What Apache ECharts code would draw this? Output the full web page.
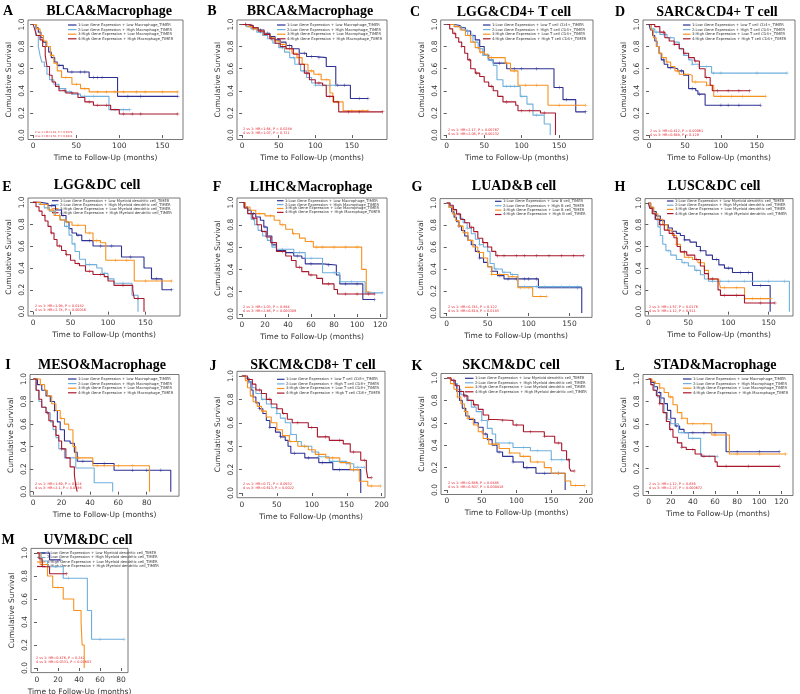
<!DOCTYPE html>
<html><head><meta charset="utf-8">
<script src="https://cdn.jsdelivr.net/npm/echarts@6/dist/echarts.min.js"></script>
<style>html,body{margin:0;padding:0;background:#fff}#c{width:800px;height:694px}</style>
</head><body><div id="c"></div>
<script>
// ---------------- DATA ----------------
const panelLetters = ['A','B','C','D','E','F','G','H','I','J','K','L','M'];
const panelTitles = ['BLCA&Macrophage','BRCA&Macrophage','LGG&CD4+ T cell','SARC&CD4+ T cell','LGG&DC cell','LIHC&Macrophage','LUAD&B cell','LUSC&DC cell','MESO&Macrophage','SKCM&CD8+ T cell','SKCM&DC cell','STAD&Macrophage','UVM&DC cell'];
const cellNames = ['Macrophage_TIMER','Macrophage_TIMER','T cell CD4+_TIMER','T cell CD4+_TIMER','Myeloid dendritic cell_TIMER','Macrophage_TIMER','B cell_TIMER','Myeloid dendritic cell_TIMER','Macrophage_TIMER','T cell CD8+_TIMER','Myeloid dendritic cell_TIMER','Macrophage_TIMER','Myeloid dendritic cell_TIMER'];
const hrTexts = [
 ['2 vs 1: HR=1.61, P = 0.0278','4 vs 3: HR=1.52, P = 0.0431'],
 ['2 vs 1: HR=1.64, P = 0.0288','4 vs 3: HR=1.07, P = 0.721'],
 ['2 vs 1: HR=2.17, P = 0.00767','4 vs 3: HR=2.06, P = 0.00232'],
 ['2 vs 1: HR=0.412, P = 0.00061','4 vs 3: HR=0.648, P = 0.129'],
 ['2 vs 1: HR=1.98, P = 0.0182','4 vs 3: HR=2.74, P = 0.00016'],
 ['2 vs 1: HR=1.03, P = 0.884','4 vs 3: HR=2.46, P = 0.000309'],
 ['2 vs 1: HR=0.741, P = 0.122','4 vs 3: HR=0.614, P = 0.0183'],
 ['2 vs 1: HR=1.57, P = 0.0176','4 vs 3: HR=1.12, P = 0.511'],
 ['2 vs 1: HR=1.69, P = 0.124','4 vs 3: HR=2.1, P = 0.0386'],
 ['2 vs 1: HR=0.71, P = 0.0932','4 vs 3: HR=0.613, P = 0.0022'],
 ['2 vs 1: HR=0.686, P = 0.0485','4 vs 3: HR=0.507, P = 0.000418'],
 ['2 vs 1: HR=1.12, P = 0.636','4 vs 3: HR=2.27, P = 0.000672'],
 ['2 vs 1: HR=0.476, P = 0.242','4 vs 3: HR=0.0331, P = 0.00603']
];
const yTicks = [0, 0.2, 0.4, 0.6, 0.8, 1.0];
const ticks150 = [0, 50, 100, 150];
const ticks120 = [0, 20, 40, 60, 80, 100, 120];
const ticks80 = [0, 20, 40, 60, 80];
const ticks200 = [0, 50, 100, 150, 200];

// Kaplan-Meier curves: [time, survival after step]
const blca_1 = [[0,1],[3,0.97],[6,0.93],[9,0.88],[12,0.84],[15,0.8],[18,0.75],[21,0.7],[25,0.66],[28,0.63],[35,0.6],[40,0.57],[65,0.52],[98,0.35],[168,0.35]];
const blca_2 = [[0,1],[3,0.9],[6,0.8],[8,0.72],[10,0.66],[13,0.62],[16,0.55],[19,0.5],[24,0.46],[30,0.42],[38,0.39],[45,0.37],[55,0.35],[88,0.23],[112,0.23]];
const blca_3 = [[0,1],[4,0.96],[8,0.9],[12,0.85],[16,0.8],[20,0.72],[24,0.65],[28,0.58],[33,0.52],[45,0.46],[55,0.42],[65,0.39],[168,0.39]];
const blca_4 = [[0,1],[2,0.95],[4,0.9],[8,0.86],[11,0.8],[14,0.72],[16,0.62],[19,0.54],[22,0.48],[26,0.44],[30,0.4],[38,0.38],[52,0.34],[60,0.3],[70,0.27],[90,0.23],[100,0.19],[168,0.19]];
const blca_1c = [30,45,55,60,70,75,80,110,125,168];
const blca_2c = [38,42,60,70,95,105,112];
const blca_3c = [38,50,60,75,85,95,105,120,130,150,168];
const blca_4c = [36,45,65,75,85,105,115,125,168];

const brca_1 = [[0,1],[8,0.99],[15,0.97],[22,0.95],[30,0.92],[38,0.89],[45,0.86],[52,0.84],[60,0.81],[68,0.78],[78,0.74],[88,0.71],[100,0.7],[115,0.62],[128,0.45],[148,0.33],[172,0.33]];
const brca_2 = [[0,1],[6,0.98],[12,0.96],[20,0.93],[28,0.9],[35,0.87],[42,0.83],[50,0.79],[58,0.75],[65,0.7],[72,0.64],[80,0.58],[88,0.52],[95,0.47],[100,0.45],[128,0.45]];
const brca_3 = [[0,1],[8,0.98],[15,0.96],[22,0.94],[30,0.91],[38,0.88],[45,0.85],[52,0.82],[60,0.78],[68,0.74],[75,0.7],[82,0.64],[90,0.58],[98,0.55],[108,0.5],[120,0.38],[124,0.3],[138,0.22],[172,0.22]];
const brca_4 = [[0,1],[8,0.99],[15,0.97],[22,0.94],[30,0.91],[38,0.87],[45,0.83],[52,0.8],[60,0.78],[70,0.73],[78,0.64],[85,0.56],[92,0.5],[100,0.47],[110,0.45],[115,0.35],[125,0.3],[132,0.21],[192,0.21]];
const brca_1c = [5,12,25,35,50,65,85,95,105,130,140,160,172];
const brca_2c = [5,15,25,40,55,70,85,100,110,120,128];
const brca_3c = [5,15,30,45,60,75,95,105,115,130,150,165,172];
const brca_4c = [5,15,25,40,55,65,90,105,120,145,160,192];

const lggt_1 = [[0,1],[10,0.99],[18,0.97],[25,0.94],[32,0.9],[38,0.86],[44,0.8],[50,0.72],[56,0.68],[62,0.65],[80,0.6],[143,0.43],[155,0.32],[172,0.21],[185,0.21]];
const lggt_2 = [[0,1],[10,0.98],[20,0.95],[28,0.9],[35,0.84],[42,0.78],[48,0.72],[55,0.68],[62,0.63],[67,0.5],[75,0.44],[98,0.35],[107,0.28],[115,0.18],[130,0.1],[138,0]];
const lggt_3 = [[0,1],[10,0.98],[18,0.95],[25,0.9],[32,0.84],[38,0.79],[44,0.75],[50,0.73],[55,0.7],[78,0.65],[85,0.58],[95,0.45],[135,0.27],[185,0.27]];
const lggt_4 = [[0,1],[4,0.96],[8,0.92],[12,0.88],[16,0.84],[20,0.8],[24,0.74],[28,0.68],[32,0.6],[38,0.56],[44,0.53],[50,0.48],[56,0.44],[62,0.4],[68,0.35],[75,0.3],[92,0.27],[95,0.22],[125,0.2],[145,0]];
const lggt_1c = [20,35,55,70,90,100,120,150,160,185];
const lggt_2c = [25,45,60,80,85,90,100,120];
const lggt_3c = [30,45,60,80,90,105,120,150,185];
const lggt_4c = [10,20,30,40,60,80,100,110,130];

const sarc_1 = [[0,1],[2,0.95],[5,0.9],[8,0.85],[11,0.8],[14,0.74],[17,0.68],[21,0.64],[26,0.61],[32,0.6],[40,0.58],[48,0.54],[55,0.42],[65,0.4],[68,0.37],[78,0.27],[155,0.27]];
const sarc_2 = [[0,1],[3,0.96],[8,0.93],[15,0.91],[25,0.88],[35,0.84],[42,0.78],[48,0.72],[55,0.68],[60,0.64],[70,0.62],[87,0.56],[192,0.56]];
const sarc_3 = [[0,1],[3,0.95],[6,0.88],[10,0.8],[14,0.74],[18,0.7],[24,0.66],[30,0.62],[36,0.58],[42,0.55],[55,0.54],[60,0.48],[80,0.45],[90,0.35],[162,0.35]];
const sarc_4 = [[0,1],[8,0.98],[15,0.93],[22,0.88],[28,0.85],[35,0.82],[42,0.78],[48,0.74],[55,0.7],[63,0.67],[70,0.6],[78,0.52],[85,0.45],[88,0.4],[140,0.4]];
const sarc_1c = [20,30,45,60,70,100,110,125,155];
const sarc_2c = [10,20,30,45,60,70,80,90,100,150,192];
const sarc_3c = [15,25,40,50,65,80,100,115,130,162];
const sarc_4c = [20,35,50,65,80,95,110,125,140];

const lggd_1 = [[0,1],[10,0.99],[20,0.97],[30,0.93],[38,0.88],[44,0.82],[48,0.76],[52,0.72],[58,0.7],[65,0.65],[80,0.6],[118,0.5],[148,0.4],[158,0.3],[172,0.2],[185,0.2]];
const lggd_2 = [[0,1],[8,0.98],[15,0.95],[22,0.92],[30,0.88],[36,0.84],[42,0.78],[48,0.7],[52,0.62],[56,0.55],[62,0.48],[70,0.43],[85,0.4],[92,0.35],[100,0.3],[108,0.26],[132,0.15],[140,0]];
const lggd_3 = [[0,1],[10,0.98],[20,0.93],[28,0.88],[36,0.84],[44,0.82],[52,0.79],[70,0.72],[80,0.65],[90,0.63],[97,0.47],[135,0.28],[185,0.28]];
const lggd_4 = [[0,1],[4,0.96],[8,0.92],[12,0.88],[16,0.83],[20,0.78],[24,0.72],[28,0.66],[32,0.6],[38,0.56],[44,0.52],[50,0.47],[56,0.44],[62,0.42],[70,0.37],[80,0.34],[95,0.32],[100,0.28],[108,0.24],[133,0.2],[135,0.12],[148,0]];
const lggd_1c = [25,40,60,75,90,105,130,165,185];
const lggd_2c = [20,35,45,55,75,95,120];
const lggd_3c = [25,35,45,60,75,85,110,125,150,185];
const lggd_4c = [15,25,35,45,60,75,90,120,140];

const lihc_1 = [[0,1],[2,0.96],[5,0.93],[8,0.9],[12,0.87],[16,0.84],[19,0.78],[22,0.7],[26,0.62],[30,0.57],[38,0.55],[45,0.52],[52,0.5],[55,0.45],[70,0.44],[82,0.35],[85,0.27],[105,0.13],[115,0.13]];
const lihc_2 = [[0,1],[2,0.95],[5,0.9],[8,0.85],[11,0.8],[14,0.75],[18,0.7],[22,0.66],[26,0.6],[30,0.58],[45,0.55],[55,0.5],[70,0.37],[85,0.29],[107,0.19],[122,0.19]];
const lihc_3 = [[0,1],[3,0.96],[7,0.93],[12,0.9],[20,0.88],[28,0.84],[33,0.8],[38,0.76],[44,0.72],[50,0.68],[55,0.65],[62,0.6],[104,0.4],[108,0.2],[111,0.2]];
const lihc_4 = [[0,1],[2,0.95],[5,0.9],[9,0.86],[13,0.8],[17,0.74],[21,0.69],[25,0.64],[30,0.56],[38,0.52],[43,0.48],[47,0.42],[52,0.38],[58,0.35],[65,0.32],[70,0.27],[80,0.22],[83,0.18],[115,0.18]];
const lihc_1c = [10,20,35,48,60,75,90,100,115];
const lihc_2c = [10,25,35,50,60,80,95,112,122];
const lihc_3c = [15,25,35,45,60,65,70,80,90,100];
const lihc_4c = [10,20,35,50,60,75,90,100,110,115];

const luad_1 = [[0,1],[3,0.96],[6,0.92],[9,0.87],[12,0.83],[15,0.79],[18,0.75],[22,0.7],[26,0.66],[30,0.62],[35,0.56],[40,0.5],[45,0.46],[50,0.42],[55,0.38],[62,0.34],[70,0.31],[112,0.23],[165,0]];
const luad_2 = [[0,1],[4,0.97],[8,0.94],[12,0.9],[16,0.86],[20,0.82],[25,0.77],[30,0.72],[35,0.67],[40,0.62],[45,0.6],[50,0.56],[53,0.45],[58,0.4],[68,0.37],[78,0.35],[87,0.24],[165,0.24]];
const luad_3 = [[0,1],[3,0.96],[7,0.9],[11,0.84],[15,0.79],[20,0.73],[26,0.66],[32,0.6],[38,0.55],[45,0.5],[50,0.42],[55,0.35],[75,0.33],[87,0.23],[105,0.15],[122,0.15]];
const luad_4 = [[0,1],[4,0.98],[8,0.94],[12,0.9],[17,0.85],[22,0.82],[28,0.78],[33,0.74],[38,0.68],[44,0.64],[50,0.6],[55,0.56],[60,0.52],[167,0.52]];
const luad_1c = [15,25,40,55,65,75,85,95,100,110,160];
const luad_2c = [10,25,40,60,70,80,95,110,120,130,140,150,160];
const luad_3c = [15,25,40,55,65,80,90,100,115,122];
const luad_4c = [15,30,45,62,70,85,95,110,125,140,155,167];

const lusc_1 = [[0,1],[3,0.96],[6,0.92],[10,0.88],[15,0.84],[20,0.8],[25,0.77],[30,0.74],[35,0.72],[40,0.7],[45,0.66],[52,0.64],[60,0.6],[65,0.56],[72,0.52],[80,0.48],[88,0.43],[95,0.4],[105,0.36],[130,0.24],[152,0]];
const lusc_2 = [[0,1],[2,0.95],[5,0.9],[8,0.85],[12,0.78],[15,0.7],[18,0.62],[22,0.56],[28,0.52],[35,0.48],[42,0.45],[50,0.42],[58,0.38],[65,0.34],[70,0.3],[75,0.28],[176,0]];
const lusc_3 = [[0,1],[3,0.96],[7,0.9],[12,0.85],[18,0.8],[24,0.75],[30,0.7],[35,0.62],[40,0.55],[45,0.5],[55,0.48],[62,0.45],[70,0.38],[75,0.3],[88,0.28],[90,0.22],[120,0.12],[153,0.12]];
const lusc_4 = [[0,1],[2,0.95],[5,0.9],[9,0.85],[14,0.8],[20,0.75],[26,0.72],[32,0.68],[36,0.6],[40,0.55],[48,0.52],[58,0.48],[65,0.42],[70,0.35],[75,0.3],[87,0.2],[90,0.15],[120,0.08],[158,0.08]];
const lusc_1c = [15,30,45,65,85,100,115,125,140];
const lusc_2c = [10,25,45,60,80,90,100,120,150,170];
const lusc_3c = [20,35,50,65,80,95,110,130,140,153];
const lusc_4c = [15,30,45,60,80,95,110,140,158];

const meso_1 = [[0,1],[3,0.95],[6,0.9],[9,0.85],[12,0.8],[15,0.72],[17,0.62],[19,0.55],[22,0.45],[26,0.43],[29,0.35],[31,0.27],[42,0.25],[57,0.19],[97,0]];
const meso_2 = [[0,1],[2,0.9],[4,0.8],[6,0.75],[9,0.7],[12,0.62],[14,0.55],[16,0.48],[18,0.38],[22,0.3],[30,0.21],[43,0.08],[56,0]];
const meso_3 = [[0,1],[5,0.95],[8,0.9],[10,0.85],[13,0.78],[16,0.72],[19,0.65],[22,0.6],[25,0.55],[28,0.4],[30,0.3],[42,0.23],[82,0]];
const meso_4 = [[0,1],[2,0.9],[4,0.82],[6,0.75],[9,0.7],[11,0.63],[14,0.58],[16,0.5],[18,0.45],[20,0.38],[23,0.3],[26,0.22],[29,0.15],[30,0.05],[31,0]];
const meso_1c = [15,35,50,70,80,90];
const meso_2c = [10,20];
const meso_3c = [20,32,45,50,60,70];
const meso_4c = [10,20];

const skcmt_1 = [[0,1],[5,0.98],[10,0.95],[13,0.88],[16,0.82],[20,0.77],[25,0.72],[30,0.68],[35,0.62],[40,0.56],[48,0.52],[55,0.48],[62,0.45],[66,0.4],[70,0.34],[90,0.3],[110,0.26],[130,0.2],[170,0]];
const skcmt_2 = [[0,1],[5,0.98],[10,0.95],[15,0.9],[20,0.85],[28,0.8],[35,0.76],[42,0.73],[50,0.68],[55,0.64],[62,0.6],[70,0.5],[78,0.44],[85,0.4],[100,0.35],[110,0.31],[125,0.27],[150,0.25],[160,0.22],[175,0.22]];
const skcmt_3 = [[0,1],[5,0.96],[8,0.9],[12,0.83],[16,0.78],[22,0.74],[28,0.7],[35,0.65],[42,0.6],[50,0.54],[58,0.49],[68,0.44],[80,0.4],[95,0.37],[105,0.33],[120,0.3],[140,0.26],[155,0.2],[168,0.1],[180,0.06],[198,0.06]];
const skcmt_4 = [[0,1],[8,0.97],[15,0.93],[20,0.88],[28,0.85],[35,0.8],[42,0.76],[50,0.72],[58,0.68],[65,0.63],[72,0.6],[95,0.56],[108,0.48],[125,0.45],[145,0.42],[155,0.35],[170,0.28],[178,0.2],[180,0.13],[185,0.13]];
const skcmt_1c = [10,25,40,55,75,95,115,140,160];
const skcmt_2c = [15,30,50,70,90,110,130,150,165,175];
const skcmt_3c = [15,30,50,70,90,110,130,160,185,198];
const skcmt_4c = [10,25,40,60,80,100,120,140,160,175,185];

const skcmd_1 = [[0,1],[5,0.98],[10,0.95],[14,0.88],[18,0.8],[22,0.73],[27,0.66],[32,0.63],[40,0.6],[45,0.56],[52,0.5],[58,0.45],[65,0.4],[72,0.34],[80,0.3],[95,0.25],[110,0.2],[128,0.15],[170,0]];
const skcmd_2 = [[0,1],[5,0.98],[10,0.95],[15,0.9],[20,0.85],[28,0.8],[35,0.74],[42,0.7],[50,0.62],[58,0.55],[65,0.5],[70,0.42],[95,0.38],[120,0.35],[150,0.27],[176,0.27]];
const skcmd_3 = [[0,1],[5,0.95],[10,0.9],[15,0.83],[20,0.77],[25,0.7],[30,0.64],[38,0.58],[45,0.52],[52,0.46],[60,0.41],[75,0.37],[90,0.33],[105,0.3],[120,0.25],[140,0.2],[150,0.15],[170,0.08],[178,0.04],[198,0.04]];
const skcmd_4 = [[0,1],[6,0.98],[12,0.93],[18,0.88],[24,0.84],[30,0.8],[38,0.76],[45,0.72],[52,0.67],[60,0.63],[70,0.62],[95,0.58],[110,0.52],[140,0.48],[155,0.42],[165,0.35],[172,0.27],[176,0.2],[178,0.17],[183,0.17]];
const skcmd_1c = [10,25,40,55,75,95,115,140,160];
const skcmd_2c = [15,30,50,70,90,110,130,150,165,176];
const skcmd_3c = [15,30,50,70,90,110,130,160,185,198];
const skcmd_4c = [10,25,40,60,80,100,120,140,160,175,183];

const stad_1 = [[0,1],[2,0.97],[5,0.93],[8,0.88],[11,0.83],[14,0.78],[17,0.72],[20,0.65],[24,0.58],[28,0.55],[32,0.52],[70,0.35],[118,0.35]];
const stad_2 = [[0,1],[2,0.95],[5,0.9],[8,0.84],[11,0.78],[14,0.7],[17,0.64],[20,0.6],[27,0.52],[36,0.47],[47,0.31],[62,0.31]];
const stad_3 = [[0,1],[3,0.98],[6,0.96],[10,0.92],[14,0.88],[18,0.84],[22,0.77],[26,0.7],[30,0.65],[35,0.6],[57,0.5],[73,0.33],[124,0.33]];
const stad_4 = [[0,1],[2,0.95],[4,0.9],[7,0.85],[10,0.78],[13,0.7],[16,0.62],[19,0.55],[22,0.48],[26,0.43],[30,0.39],[34,0.37],[42,0.33],[48,0.31],[60,0.26],[62,0.22],[118,0.22]];
const stad_1c = [10,25,40,50,60,80,100,118];
const stad_2c = [10,20,30,40,55,62];
const stad_3c = [10,20,30,40,50,60,80,100,124];
const stad_4c = [10,20,30,40,50,70,90,118];

const uvm_1 = [[0,1],[12,0.94],[22,0.94]];
const uvm_2 = [[0,1],[4,0.93],[10,0.88],[25,0.78],[48,0.5],[52,0.25],[83,0.25]];
const uvm_3 = [[0,1],[3,0.9],[10,0.8],[15,0.7],[25,0.6],[35,0.5],[42,0.4],[43,0.2],[45,0]];
const uvm_4 = [[0,1],[2,0.95],[5,0.88],[12,0.82],[28,0.82]];
const uvm_1c = [22];
const uvm_2c = [30,60,83];
const uvm_3c = [20];
const uvm_4c = [28];

const curveSets = [
 [blca_1,blca_2,blca_3,blca_4],[brca_1,brca_2,brca_3,brca_4],[lggt_1,lggt_2,lggt_3,lggt_4],[sarc_1,sarc_2,sarc_3,sarc_4],
 [lggd_1,lggd_2,lggd_3,lggd_4],[lihc_1,lihc_2,lihc_3,lihc_4],[luad_1,luad_2,luad_3,luad_4],[lusc_1,lusc_2,lusc_3,lusc_4],
 [meso_1,meso_2,meso_3,meso_4],[skcmt_1,skcmt_2,skcmt_3,skcmt_4],[skcmd_1,skcmd_2,skcmd_3,skcmd_4],[stad_1,stad_2,stad_3,stad_4],
 [uvm_1,uvm_2,uvm_3,uvm_4]
];
const censorSets = [
 [blca_1c,blca_2c,blca_3c,blca_4c],[brca_1c,brca_2c,brca_3c,brca_4c],[lggt_1c,lggt_2c,lggt_3c,lggt_4c],[sarc_1c,sarc_2c,sarc_3c,sarc_4c],
 [lggd_1c,lggd_2c,lggd_3c,lggd_4c],[lihc_1c,lihc_2c,lihc_3c,lihc_4c],[luad_1c,luad_2c,luad_3c,luad_4c],[lusc_1c,lusc_2c,lusc_3c,lusc_4c],
 [meso_1c,meso_2c,meso_3c,meso_4c],[skcmt_1c,skcmt_2c,skcmt_3c,skcmt_4c],[skcmd_1c,skcmd_2c,skcmd_3c,skcmd_4c],[stad_1c,stad_2c,stad_3c,stad_4c],
 [uvm_1c,uvm_2c,uvm_3c,uvm_4c]
];
const xTickSets = [ticks150,ticks150,ticks150,ticks150,ticks150,ticks120,ticks150,ticks150,ticks80,ticks200,ticks200,ticks120,ticks80];

// ---------------- LAYOUT (positions / styles) ----------------
// f: frame [l,t,r,b]; x: axis range; t: title centre; L: letter; lg: [lineX, textX, y0, dy]; hr: [x, y0, size]
const layout = [
 {f:[28,20,183,139.5], x:[-6,174], t:[109,11], L:[8,11], lg:[68,78,25,4.6], hr:[35,132,2.6]},
 {f:[237,20,387,139.5], x:[-7,198], t:[310,11], L:[212,11], lg:[277,287,25,4.6], hr:[243,129.5,3.4]},
 {f:[440.7,20,593,139.5], x:[-8,195], t:[514,12], L:[415,12], lg:[483,492,25,4.6], hr:[448,130.5,3.4]},
 {f:[643,20,795,139.5], x:[-8.4,203], t:[717,12], L:[620,12], lg:[683,692,25,4.6], hr:[650,130.7,3.4]},
 {f:[28,198,180,316], x:[-6.7,196], t:[97,185], L:[7,187], lg:[52,60,200.7,4], hr:[35,306,3.4]},
 {f:[237,198,387,318.5], x:[-4.3,126], t:[311,187], L:[217,187], lg:[277,285,200.7,3.9], hr:[243,306.7,3.4]},
 {f:[440,198.6,592,317.4], x:[-8.2,177.5], t:[514,186], L:[417,187], lg:[495,503,201.3,4.4], hr:[448,306.7,3.4]},
 {f:[645,198.6,793,316], x:[-4.1,180.5], t:[714,186], L:[620,187], lg:[667,675,201,4.2], hr:[649,306.7,3.4]},
 {f:[30,374.5,179,496.2], x:[-2.3,102.8], t:[102,365], L:[8,365], lg:[68,78,379,4.6], hr:[35,484,3.4]},
 {f:[237,371.3,385,497.7], x:[-7,204.7], t:[313,365], L:[213,366], lg:[277,286,379.3,4.6], hr:[243,484,3.4]},
 {f:[441,373.5,592,494.5], x:[-8.6,208.6], t:[511,365], L:[417,366], lg:[465,475,378.3,4.5], hr:[448,483.3,3.4]},
 {f:[643,374.5,793,495.5], x:[-5.1,130.5], t:[715,365], L:[620,366], lg:[683,693,379,4.6], hr:[649,484,3.4]},
 {f:[31,548.4,128,672.6], x:[-5.7,86.7], t:[88,540], L:[8,540], lg:[37,47,553,4.5], hr:[36,658,3.4]}
];
const colors = ['#2e3192','#6fafdc','#f7911e','#a8172c'];
const PLUS = 'path://M4.3,0H5.7V4.3H10V5.7H5.7V10H4.3V5.7H0V4.3H4.3Z';
const AX = '#333';
const SANS = '"DejaVu Sans", sans-serif';
const SERIF = '"Liberation Serif", "Times New Roman", serif';

function survAt(curve, t) {
  let s = 1;
  for (const p of curve) { if (p[0] <= t) s = p[1]; else break; }
  return s;
}

const grids = [], xAxes = [], yAxes = [], series = [], graphics = [];
layout.forEach((lo, i) => {
  const [l, t, r, b] = lo.f;
  grids.push({left: l, top: t, width: r - l, height: b - t, show: true, borderColor: '#555', borderWidth: 0.8, containLabel: false, outerBoundsMode: 'none'});
  xAxes.push({
    gridIndex: i, type: 'value', min: lo.x[0], max: lo.x[1],
    axisLine: {show: false}, splitLine: {show: false},
    axisTick: {show: true, customValues: xTickSets[i], length: 3, lineStyle: {color: AX, width: 0.8}},
    axisLabel: {customValues: xTickSets[i], fontSize: 7.5, color: AX, margin: 3, fontFamily: SANS},
    name: 'Time to Follow-Up (months)', nameLocation: 'middle', nameGap: 15,
    nameTextStyle: {fontSize: 7.5, color: AX, fontFamily: SANS}
  });
  yAxes.push({
    gridIndex: i, type: 'value', min: -0.04, max: 1.04,
    axisLine: {show: false}, splitLine: {show: false},
    axisTick: {show: true, customValues: yTicks, length: 3, lineStyle: {color: AX, width: 0.8}},
    axisLabel: {customValues: yTicks, fontSize: 7.5, color: AX, margin: 2, rotate: 90, fontFamily: SANS, formatter: v => v.toFixed(1)},
    name: 'Cumulative Survival', nameLocation: 'middle', nameGap: 15,
    nameTextStyle: {fontSize: 7.5, color: AX, fontFamily: SANS}
  });
  curveSets[i].forEach((c, k) => {
    series.push({type: 'line', xAxisIndex: i, yAxisIndex: i, data: c, step: 'end', symbol: 'none',
      lineStyle: {color: colors[k], width: 1.1}, itemStyle: {color: colors[k]}, silent: true, z: 2 + k});
    series.push({type: 'scatter', xAxisIndex: i, yAxisIndex: i,
      data: censorSets[i][k].map(tt => [tt, survAt(c, tt)]),
      symbol: PLUS, symbolSize: 3.6, itemStyle: {color: colors[k]}, silent: true, z: 2 + k});
  });
  // title & letter
  graphics.push({type: 'text', style: {text: panelTitles[i], x: lo.t[0], y: lo.t[1], font: 'bold 14px ' + SERIF, fill: '#000', align: 'center', verticalAlign: 'middle', textAlign: 'center', textVerticalAlign: 'middle'}});
  graphics.push({type: 'text', style: {text: panelLetters[i], x: lo.L[0], y: lo.L[1], font: 'bold 14px ' + SERIF, fill: '#000', align: 'center', verticalAlign: 'middle', textAlign: 'center', textVerticalAlign: 'middle'}});
  // legend
  const levels = [['Low','Low'],['Low','High'],['High','Low'],['High','High']];
  levels.forEach((lv, k) => {
    const yy = lo.lg[2] + k * lo.lg[3];
    graphics.push({type: 'line', shape: {x1: lo.lg[0], y1: yy, x2: lo.lg[1] - 1.5, y2: yy}, style: {stroke: colors[k], lineWidth: 1.2}});
    graphics.push({type: 'text', style: {text: (k + 1) + ':' + lv[0] + ' Gene Expression + ' + lv[1] + ' ' + cellNames[i], x: lo.lg[1], y: yy, font: '3.7px ' + SANS, fill: '#333', align: 'left', verticalAlign: 'middle', textAlign: 'left', textVerticalAlign: 'middle'}});
  });
  // HR text
  hrTexts[i].forEach((s, k) => {
    graphics.push({type: 'text', style: {text: s, x: lo.hr[0], y: lo.hr[1] + k * 4, font: lo.hr[2] + 'px ' + SANS, fill: '#e4202a', align: 'left', verticalAlign: 'middle', textAlign: 'left', textVerticalAlign: 'middle'}});
  });
});

const chart = echarts.init(document.getElementById('c'), null, {renderer: 'canvas', width: 800, height: 694});
chart.setOption({
  animation: false, backgroundColor: '#fff',
  grid: grids, xAxis: xAxes, yAxis: yAxes, series: series, graphic: {elements: graphics}
});
</script>
</body></html>
